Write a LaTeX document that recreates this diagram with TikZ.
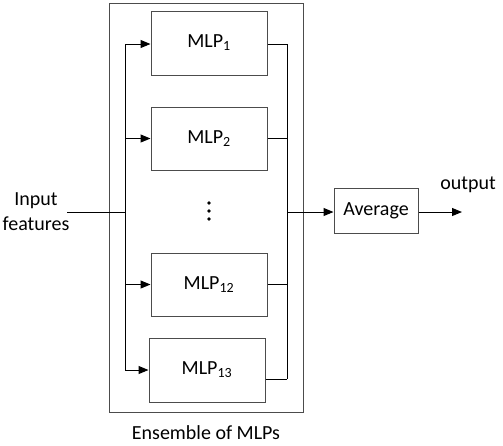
\documentclass[tikz,border=0pt]{standalone}
\usepackage{fontspec}
\setmainfont{Carlito}
\usetikzlibrary{arrows.meta}
\tikzset{
  box/.style={draw=black!70, line width=1pt, rectangle, inner sep=0pt, font=\fontsize{20}{24}\selectfont},
  conn/.style={draw=black, line width=1pt},
  arr/.style={conn, -{Triangle[length=10pt,width=8pt]}},
  lbl/.style={font=\fontsize{20}{24}\selectfont, inner sep=0pt, align=center},
  dot/.style={circle, fill=black, inner sep=0pt, minimum size=3.6pt}
}
\begin{document}
\begin{tikzpicture}[x=1pt,y=-1pt]
\useasboundingbox (0,0) rectangle (503,445);
\node[box, minimum width=194pt, minimum height=409pt] (ens) at (206,207.5) {};
\node[box, minimum width=116pt, minimum height=64pt] (m1) at (209,43) {MLP\textsubscript{1}};
\node[box, minimum width=116pt, minimum height=63pt] (m2) at (209,138.5) {MLP\textsubscript{2}};
\node[box, minimum width=116pt, minimum height=63pt] (m12) at (209,284.5) {MLP\textsubscript{12}};
\node[box, minimum width=116pt, minimum height=64pt] (m13) at (207,370) {MLP\textsubscript{13}};
\node[box, minimum width=84pt, minimum height=45pt] (avg) at (376,210.5) {Average};
\node[dot] (d1) at (209,203) {};
\node[dot] (d2) at (209,211) {};
\node[dot] (d3) at (209,219) {};
\node[lbl] (inp) at (36,212) {Input\\[1pt]features};
\node[lbl] (out) at (468,185) {output};
\node[lbl] (enl) at (206,433) {Ensemble of MLPs};
\coordinate (inL) at (67,212);
\coordinate (jL) at (125,212);
\coordinate (bLt) at (125,44);
\coordinate (bLb) at (125,370);
\coordinate (bRt) at (287,44);
\coordinate (bRb) at (287,379);
\coordinate (jR) at (287,212);
\coordinate (outE) at (462,212);
% input
\draw[conn] (inL) -- (jL);
\draw[conn] (bLt) -- (bLb);
\draw[arr] (bLt) -- (bLt -| m1.west);
\draw[arr] (m2.west -| bLt) -- (m2.west);
\draw[arr] (m12.west -| bLt) -- (m12.west);
\draw[arr] (bLb) -- (bLb -| m13.west);
% outputs
\draw[conn] (bRt) -- (bRb);
\draw[conn] (bRt -| m1.east) -- (bRt);
\draw[conn] (m2.east) -- (m2.east -| bRt);
\draw[conn] (m12.east) -- (m12.east -| bRt);
\draw[conn] (bRb -| m13.east) -- (bRb);
\draw[arr] (jR) -- (jR -| avg.west);
\draw[arr] (jR -| avg.east) -- (outE);
\end{tikzpicture}
\end{document}
